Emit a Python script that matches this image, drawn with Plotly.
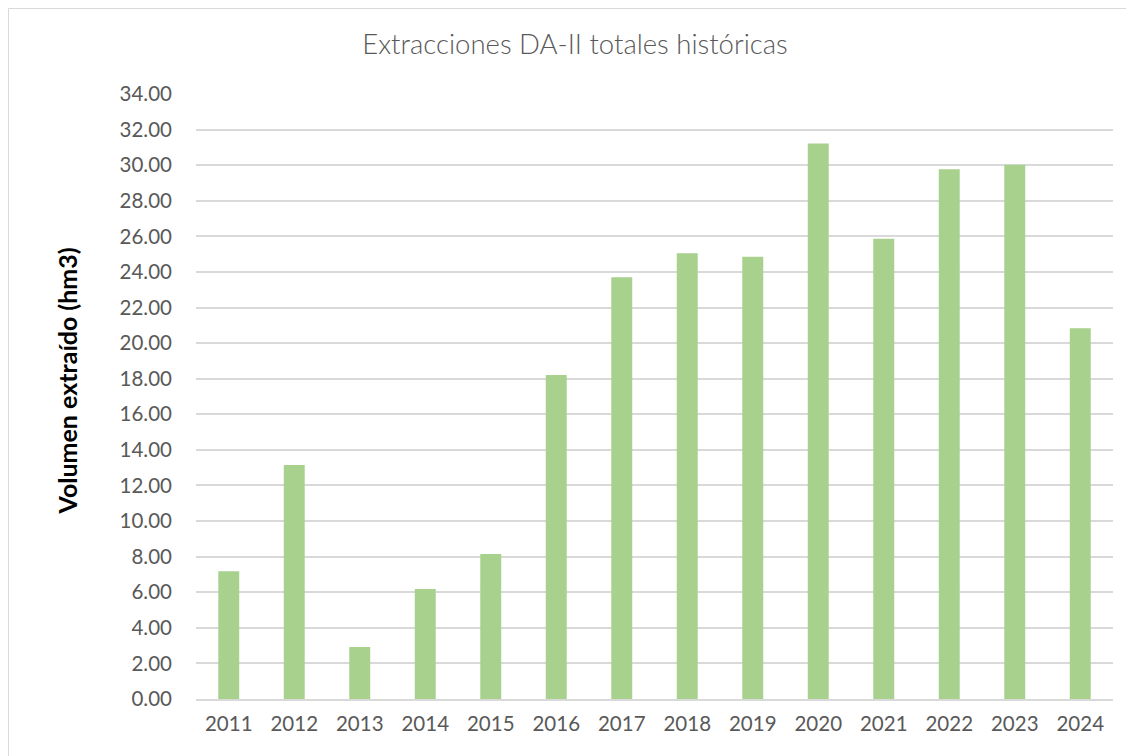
import plotly.graph_objects as go

years = ["2011", "2012", "2013", "2014", "2015", "2016", "2017",
         "2018", "2019", "2020", "2021", "2022", "2023", "2024"]
volumes = [7.18, 13.15, 2.92, 6.18, 8.15, 18.21, 23.70,
           25.05, 24.85, 31.22, 25.86, 29.77, 30.02, 20.84]
y_ticks = [i * 2 for i in range(18)]

fig = go.Figure()
fig.add_trace(go.Bar(
    x=years, y=volumes,
    marker=dict(color="#a9d18e", line=dict(width=0)),
    hoverinfo="x+y",
))

W, H = 1134, 756
ml, mr, mt, mb = 188, 29, 86, 65
pw, ph = W - ml - mr, H - mt - mb

fig.update_layout(
    width=W, height=H,
    margin=dict(l=ml, r=mr, t=mt, b=mb),
    paper_bgcolor="white", plot_bgcolor="white",
    bargap=0.68,
    showlegend=False,
    font=dict(family="Lato, sans-serif", color="#595959", size=20),
    title=dict(
        text="Extracciones DA-II totales históricas",
        x=0.5, xref="container", xanchor="center",
        y=1 - 36 / H, yref="container", yanchor="middle",
        font=dict(family="Lato, sans-serif", size=27.5, color="#595959", weight=300),
    ),
    xaxis=dict(
        showgrid=False, showline=True, linecolor="#d9d9d9", linewidth=1.5,
        ticks="", tickfont=dict(size=20.5, color="#595959"),
        ticklabelstandoff=6,
    ),
    yaxis=dict(
        range=[0, 34], tickvals=y_ticks, tickformat=".2f",
        showgrid=True, gridcolor="#d9d9d9", gridwidth=1.5,
        zeroline=False, showline=False, ticks="",
        tickfont=dict(size=20.5, color="#595959"),
        ticklabelstandoff=23,
    ),
    annotations=[dict(
        text="<b>Volumen extraído (hm3)</b>",
        textangle=-90, showarrow=False,
        xref="paper", yref="paper",
        x=(58 - ml) / pw, y=1 - (373.5 - mt) / ph,
        xanchor="center", yanchor="middle",
        font=dict(family="Lato, sans-serif", size=25, color="#000000"),
    )],
    shapes=[dict(
        type="rect", xref="paper", yref="paper",
        x0=-(ml - 0.5) / pw, x1=(W - ml + 10) / pw,
        y0=-(mb + 10) / ph, y1=1 + (mt - 0.5) / ph,
        line=dict(color="#d9d9d9", width=1), fillcolor="rgba(0,0,0,0)",
        layer="below",
    )],
)

fig.write_html("out.html")
